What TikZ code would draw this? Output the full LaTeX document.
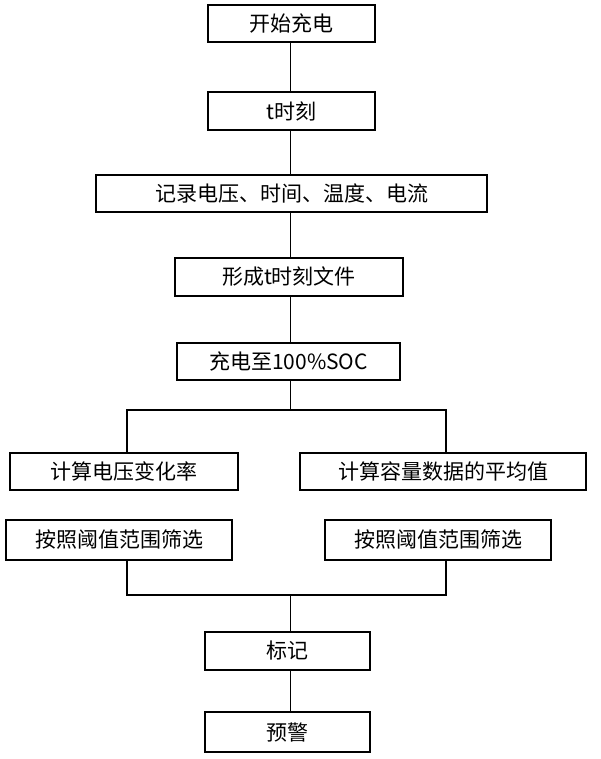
\documentclass[tikz,border=0pt]{standalone}
\usepackage{fontspec}
\setmainfont{Noto Sans CJK SC}
\begin{document}
\begin{tikzpicture}[x=1pt,y=-1pt,line width=1.5pt,
  bx/.style={draw,rectangle,inner sep=0pt,font=\fontsize{21}{24}\selectfont}]
\useasboundingbox (0,0) rectangle (600,759);
\newcommand{\bxat}[6]{\node[bx,minimum width=#4-#2,minimum height=#5-#3] (#1) at ({(#2+#4)/2},{(#3+#5)/2}) {#6};}
\bxat{a}{208}{5}{375}{42}{开始充电}
\bxat{b}{208}{92}{375}{130}{t时刻}
\bxat{c}{96}{175}{487}{212}{记录电压、时间、温度、电流}
\bxat{d}{175}{258}{403}{296}{形成t时刻文件}
\bxat{e}{177}{343}{400}{380}{充电至100\%SOC}
\bxat{f}{10}{453}{238}{490}{计算电压变化率}
\bxat{g}{300}{453}{586}{490}{计算容量数据的平均值}
\bxat{h}{6}{520}{232}{560}{按照阈值范围筛选}
\bxat{i}{325}{520}{551}{560}{按照阈值范围筛选}
\bxat{j}{205}{632}{370}{670}{标记}
\bxat{k}{205}{712}{370}{752}{预警}
\coordinate (s) at (290.5,410);
\coordinate (m) at (290.5,595);
\draw (a.south -| s) -- (b.north -| s);
\draw (b.south -| s) -- (c.north -| s);
\draw (c.south -| s) -- (d.north -| s);
\draw (d.south -| s) -- (e.north -| s);
\draw (e.south -| s) -- (s);
\draw (f.north -| 127,0) |- (s) -| (g.north -| 446,0);
\draw (h.south -| 127,0) |- (m) -| (i.south -| 446,0);
\draw (m) -- (j.north -| m);
\draw (j.south -| m) -- (k.north -| m);
\end{tikzpicture}
\end{document}
